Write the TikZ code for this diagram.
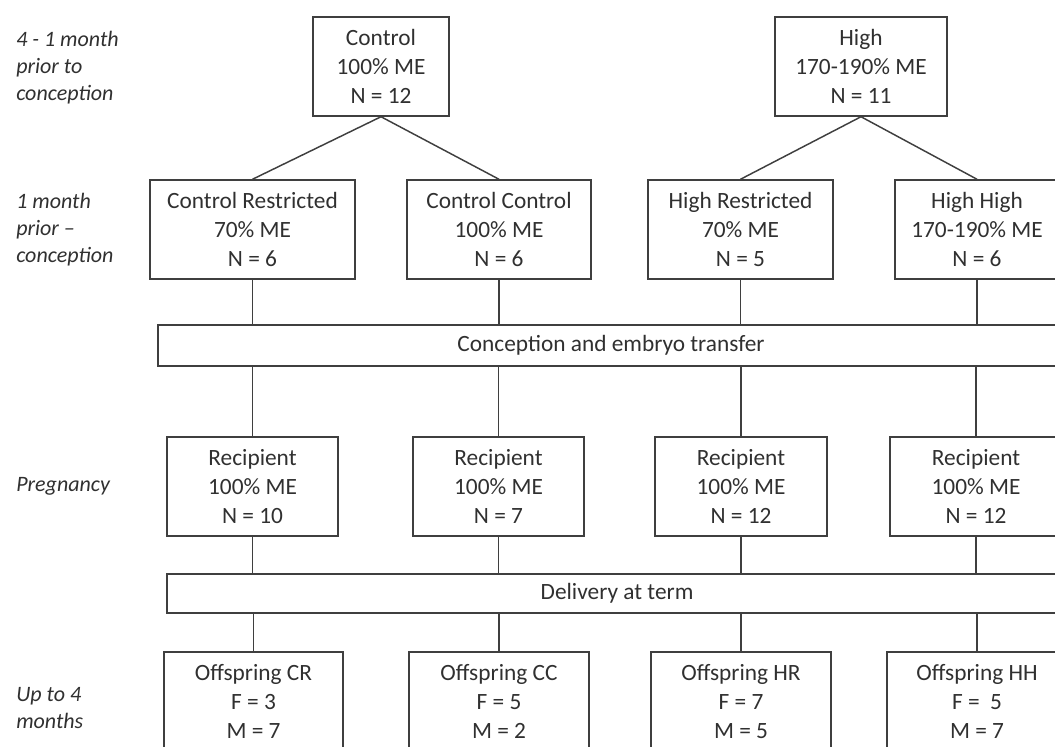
\documentclass[tikz,border=0pt]{standalone}
\usepackage{fontspec}
\setmainfont{Carlito}
\definecolor{linegray}{HTML}{3F3F3F}
\definecolor{textgray}{HTML}{303030}
\tikzset{
  grp/.style={draw=linegray, line width=1.1pt, align=center, inner sep=0pt,
    text=textgray, font=\fontsize{17.5}{22}\selectfont, minimum height=99*0.75pt},
  boxw/.style={minimum width=#1*0.75pt},
  bar/.style={grp, minimum height=#1*0.75pt},
  period/.style={anchor=west, align=left, inner sep=0pt, text=textgray,
    font=\itshape\fontsize{16.5}{20}\selectfont},
  link/.style={draw=linegray, line width=1.1pt}
}
\begin{document}
\begin{tikzpicture}[x=0.75pt, y=-0.75pt]
    \useasboundingbox (0,0) rectangle (1055,746);
    \clip (0,0) rectangle (1055,746);

    % Periods
    % ---------------------
    \node[period] (p1) at (16,67.5) {4 - 1 month\\prior to\\conception};
    \node[period] (p2) at (16,229.5) {1 month\\prior --\\conception};
    \node[period] (p3) at (16,486.5) {Pregnancy};
    \node[period] (p4) at (16,708) {Up to 4\\months};

    % Diet before conception
    % ---------------------
    \node[grp, boxw=136] (ctl) at (381,66.5) {Control\\100\% ME\\N = 12};
    \node[grp, boxw=172] (high) at (861,66.5) {High\\170-190\% ME\\N = 11};

    \node[grp, boxw=205] (cr) at (252.5,229.5) {Control Restricted\\70\% ME\\N = 6};
    \node[grp, boxw=184] (cc) at (499,229.5) {Control Control\\100\% ME\\N = 6};
    \node[grp, boxw=185] (hr) at (740.5,229.5) {High Restricted\\70\% ME\\N = 5};
    \node[grp, boxw=164] (hh) at (977,229.5) {High High\\170-190\% ME\\N = 6};

    \draw[link] (ctl.south) -- (cr.north);
    \draw[link] (ctl.south) -- (cc.north);
    \draw[link] (high.south) -- (hr.north);
    \draw[link] (high.south) -- (hh.north);

    % Transfer and pregnancy
    % ---------------------
    \node[bar=41, boxw=906] (transfer) at (611,345.5) {Conception and embryo transfer};

    \node[grp, boxw=171] (rcr) at (252.5,486.5) {Recipient\\100\% ME\\N = 10};
    \node[grp, boxw=171] (rcc) at (498.5,486.5) {Recipient\\100\% ME\\N = 7};
    \node[grp, boxw=172] (rhr) at (741,486.5) {Recipient\\100\% ME\\N = 12};
    \node[grp, boxw=172] (rhh) at (976,486.5) {Recipient\\100\% ME\\N = 12};

    \foreach \a/\b in {cr/rcr, cc/rcc, hr/rhr, hh/rhh} {
      \draw[link] (\a.south) -- (\a.south |- transfer.north);
      \draw[link] (\b.north |- transfer.south) -- (\b.north);
    }

    % Delivery and offspring
    % ---------------------
    \node[bar=39, boxw=900] (term) at (617,593.5) {Delivery at term};

    \node[grp, boxw=179] (ocr) at (253.5,701.5) {Offspring CR\\F = 3\\M = 7};
    \node[grp, boxw=180] (occ) at (499,701.5) {Offspring CC\\F = 5\\M = 2};
    \node[grp, boxw=180] (ohr) at (741,701.5) {Offspring HR\\F = 7\\M = 5};
    \node[grp, boxw=180] (ohh) at (977,701.5) {Offspring HH\\F = \ 5\\M = 7};

    \foreach \a/\b in {rcr/ocr, rcc/occ, rhr/ohr, rhh/ohh} {
      \draw[link] (\a.south) -- (\a.south |- term.north);
      \draw[link] (\b.north |- term.south) -- (\b.north);
    }
  \end{tikzpicture}
\end{document}
